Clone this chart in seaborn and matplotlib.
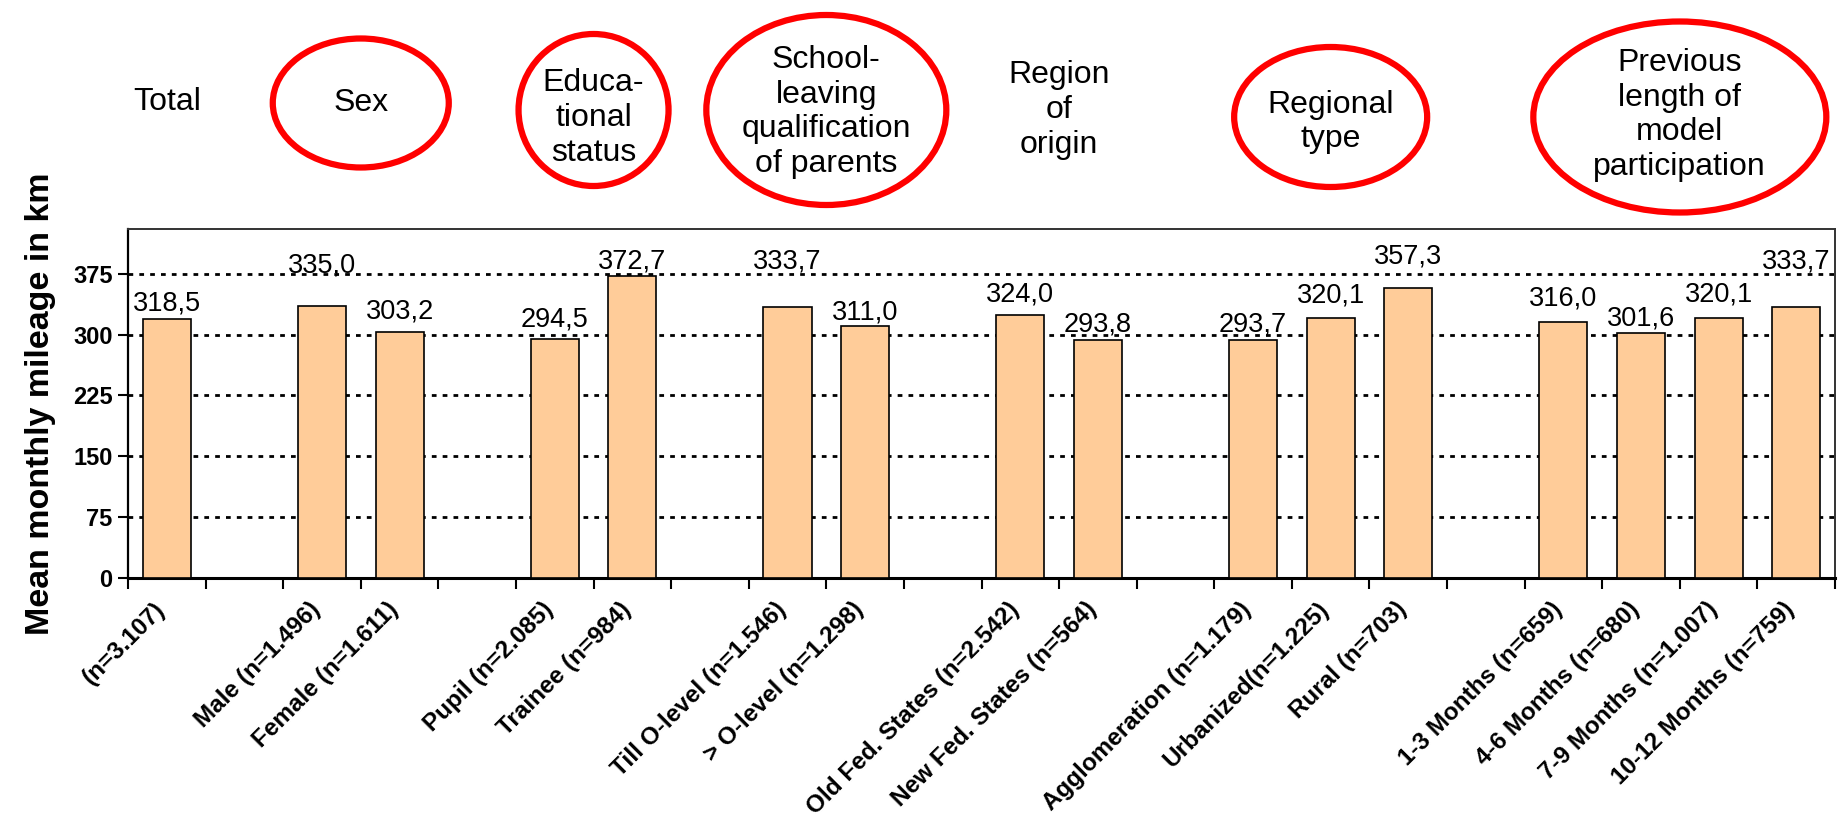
import numpy as np
import pandas as pd
import matplotlib
matplotlib.use("Agg")
import matplotlib.pyplot as plt
from matplotlib.patches import Ellipse
from matplotlib.transforms import blended_transform_factory, offset_copy
import seaborn as sns

# ---- data: mean monthly mileage (km) per respondent group ----
total_labels = ["(n=3.107)"]
total_values = [318.5]
sex_labels = ["Male (n=1.496)", "Female (n=1.611)"]
sex_values = [335.0, 303.2]
education_labels = ["Pupil (n=2.085)", "Trainee (n=984)"]
education_values = [294.5, 372.7]
parents_labels = ["Till O-level (n=1.546)", "> O-level (n=1.298)"]
parents_values = [333.7, 311.0]
origin_labels = ["Old Fed. States (n=2.542)", "New Fed. States (n=564)"]
origin_values = [324.0, 293.8]
regional_labels = ["Agglomeration (n=1.179)", "Urbanized(n=1.225)", "Rural (n=703)"]
regional_values = [293.7, 320.1, 357.3]
participation_labels = ["1-3 Months (n=659)", "4-6 Months (n=680)",
                        "7-9 Months (n=1.007)", "10-12 Months (n=759)"]
participation_values = [316.0, 301.6, 320.1, 333.7]

group_titles = ["Total", "Sex", "Educa-\ntional\nstatus",
                "School-\nleaving\nqualification\nof parents",
                "Region\nof\norigin", "Regional\ntype",
                "Previous\nlength of\nmodel\nparticipation"]
group_circled = [False, True, True, True, False, True, True]
y_ticks = [0, 75, 150, 225, 300, 375]
y_title = "Mean monthly mileage in km"

# ---- layout / style settings ----
FIG_W, FIG_H, DPI = 1841, 825, 100
AX_LEFT, AX_RIGHT, AX_TOP, AX_BOTTOM = 128, 1835, 229, 578   # pixels
Y_MAX = 430
BAR_COLOR = "#FFCC99"
# vertical lift of each value label above its bar top (pixels)
label_lift_px = [9, 34, 13, 12, 7, 39, 6, 14, 8, 8, 16, 25, 16, 8, 17, 39]
# header geometry per group: (ellipse width px, ellipse height px, ellipse centre y px, text centre y px)
header_geom = [(0, 0, 0, 102), (176, 129, 103, 103), (150, 152, 110, 118),
               (240, 190, 110, 112), (0, 0, 0, 110), (193, 140, 117, 122),
               (293, 191, 117, 115)]

plt.rcParams["font.family"] = ["Liberation Sans", "DejaVu Sans"]

label_groups = [total_labels, sex_labels, education_labels, parents_labels,
                origin_labels, regional_labels, participation_labels]
value_groups = [total_values, sex_values, education_values, parents_values,
                origin_values, regional_values, participation_values]

df = pd.DataFrame({
    "label": [l for g in label_groups for l in g],
    "value": [v for g in value_groups for v in g],
})

# category order with an empty spacer slot between groups
order = []
group_members = []
for gi, labels in enumerate(label_groups):
    if gi > 0:
        order.append(" " * gi)
    group_members.append(list(labels))
    order.extend(labels)

fig = plt.figure(figsize=(FIG_W / DPI, FIG_H / DPI), dpi=DPI)
ax = fig.add_axes([AX_LEFT / FIG_W, 1 - AX_BOTTOM / FIG_H,
                   (AX_RIGHT - AX_LEFT) / FIG_W, (AX_BOTTOM - AX_TOP) / FIG_H])

sns.barplot(data=df, x="label", y="value", order=order, ax=ax,
            color=BAR_COLOR, saturation=1, width=0.62,
            edgecolor="black", linewidth=1.2, errorbar=None, zorder=3)

ax.set_xlim(-0.5, len(order) - 0.5)
ax.set_ylim(0, Y_MAX)
ax.set_yticks(y_ticks)
ax.set_yticklabels([str(t) for t in y_ticks], fontsize=17, fontweight="bold")
ax.tick_params(axis="y", direction="out", length=7, width=1.5, pad=4)

# gridlines (dotted, behind bars)
ax.set_axisbelow(True)
ax.yaxis.grid(True, color="black", linewidth=2.0, linestyle=(0, (1.7, 2.2)))
ax.xaxis.grid(False)

# x labels at bar centres, tick marks on slot boundaries
ax.set_xticks(range(len(order)))
ax.set_xticklabels([o if o.strip() else "" for o in order],
                   rotation=45, ha="right", rotation_mode="anchor",
                   va="center", fontsize=17.5, fontweight="bold")
ax.tick_params(axis="x", which="major", length=0, pad=20)
for lbl in ax.get_xticklabels():
    lbl.set_transform(offset_copy(lbl.get_transform(), fig=fig, x=-5, units="dots"))
ax.set_xticks(np.arange(-0.5, len(order), 1.0), minor=True)
ax.tick_params(axis="x", which="minor", direction="out", length=8, width=1.5)

ax.set_xlabel("")
ax.set_ylabel(y_title, fontsize=24.5, fontweight="bold", labelpad=12)

for side in ["left", "bottom"]:
    ax.spines[side].set_color("black")
ax.spines["left"].set_linewidth(1.6)
ax.spines["bottom"].set_linewidth(2.2)
for side in ["top", "right"]:
    ax.spines[side].set_color("#333333")
    ax.spines[side].set_linewidth(1.4)

# value labels above each bar
bars = [p for p in ax.patches if p.get_height() > 0]
for bar, val, lift in zip(bars, df["value"], label_lift_px):
    cx = bar.get_x() + bar.get_width() / 2
    ax.annotate(f"{val:.1f}".replace(".", ","), (cx, bar.get_height()),
                xytext=(0, lift * 72 / DPI), textcoords="offset points",
                ha="center", va="baseline", fontsize=19.5, zorder=5,
                annotation_clip=False)

# group headers above the plot
fig.canvas.draw()
px_per_slot = ax.transData.transform((1, 0))[0] - ax.transData.transform((0, 0))[0]
head_tr = blended_transform_factory(ax.transData, fig.transFigure)
for title, circled, members, (ew, eh, ecy, tcy) in zip(group_titles, group_circled,
                                                       group_members, header_geom):
    xc = np.mean([order.index(m) for m in members])
    fig.text(xc, 1 - tcy / FIG_H, title, transform=head_tr, ha="center",
             va="center", fontsize=23, linespacing=1.2, multialignment="center")
    if circled:
        fig.patches.append(Ellipse((xc, 1 - ecy / FIG_H), ew / px_per_slot, eh / FIG_H,
                                   transform=head_tr, fill=False,
                                   edgecolor="#FF0000", linewidth=4.5))

fig.savefig("out.png", dpi=DPI, facecolor="white")
